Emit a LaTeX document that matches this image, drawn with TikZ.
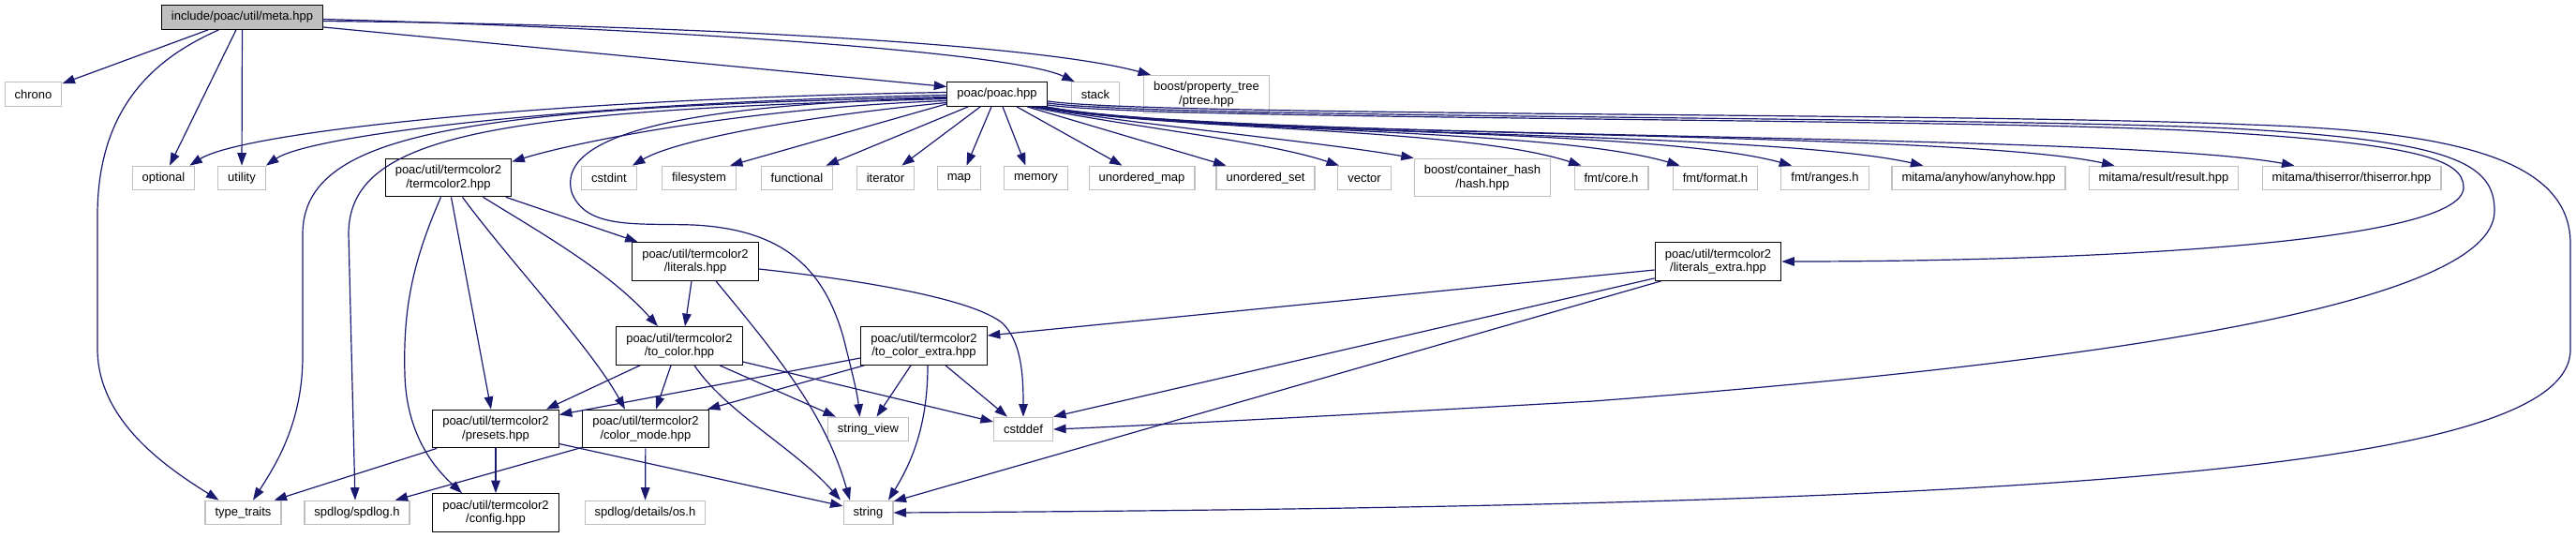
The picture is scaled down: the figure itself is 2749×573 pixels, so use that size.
\documentclass[tikz,border=0pt]{standalone}
\usepackage{fontspec}
\setmainfont{Liberation Sans}
\usetikzlibrary{arrows.meta,calc}
\definecolor{edgeblue}{HTML}{191970}
\definecolor{extgrey}{HTML}{BFBFBF}
\definecolor{rootfill}{HTML}{BFBFBF}
\tikzset{
  nbase/.style={rectangle, inner xsep=10.5pt, inner ysep=6pt, align=center,
    font=\fontsize{13pt}{14.3pt}\selectfont, line width=1.2pt, minimum height=25.5pt},
  ext/.style={nbase, draw=extgrey},
  int/.style={nbase, draw=black, minimum height=40.5pt},
  root/.style={nbase, draw=black, fill=rootfill},
  e/.style={draw=edgeblue, line width=1.2pt, -{Triangle[length=13.5pt,width=9.5pt]}}
}
\begin{document}
\begin{tikzpicture}[x=1pt,y=-1pt]
\useasboundingbox (0,0) rectangle (2749,573);
% nodes
\node[root] (meta) at (258.5,18.5) {include/poac/util/meta.hpp};
\node[ext] (chrono) at (35.5,100.5) {chrono};
\node[int,minimum height=25.5pt] (poac) at (1064,100.5) {poac/poac.hpp};
\node[ext] (stack) at (1169,100.5) {stack};
\node[ext,minimum height=40pt] (ptree) at (1287.5,100.5) {boost/property\_tree\\/ptree.hpp};
\node[ext] (optional) at (174.5,190) {optional};
\node[ext] (utility) at (258,190) {utility};
\node[int] (termcolor2) at (478.5,189.5) {poac/util/termcolor2\\/termcolor2.hpp};
\node[ext] (cstdint) at (650,190) {cstdint};
\node[ext] (filesystem) at (746,190) {filesystem};
\node[ext] (functional) at (850.5,190) {functional};
\node[ext] (iterator) at (945,190) {iterator};
\node[ext] (map) at (1023.5,190) {map};
\node[ext] (memory) at (1105.5,190) {memory};
\node[ext] (umap) at (1218.5,190) {unordered\_map};
\node[ext] (uset) at (1350.5,190) {unordered\_set};
\node[ext] (vector) at (1456,190) {vector};
\node[ext,minimum height=40.5pt] (chash) at (1582,189.5) {boost/container\_hash\\/hash.hpp};
\node[ext] (fmtcore) at (1719.5,190) {fmt/core.h};
\node[ext] (fmtformat) at (1830.5,190) {fmt/format.h};
\node[ext] (fmtranges) at (1947.5,190) {fmt/ranges.h};
\node[ext] (anyhow) at (2111.5,190) {mitama/anyhow/anyhow.hpp};
\node[ext] (result) at (2309,190) {mitama/result/result.hpp};
\node[ext] (thiserror) at (2509.5,190) {mitama/thiserror/thiserror.hpp};
\node[int] (literals) at (742,279) {poac/util/termcolor2\\/literals.hpp};
\node[int] (litextra) at (1833.5,279) {poac/util/termcolor2\\/literals\_extra.hpp};
\node[int] (tocolor) at (725,369) {poac/util/termcolor2\\/to\_color.hpp};
\node[int] (tocolorx) at (986,369) {poac/util/termcolor2\\/to\_color\_extra.hpp};
\node[int] (presets) at (529,457.5) {poac/util/termcolor2\\/presets.hpp};
\node[int] (colormode) at (689,457.5) {poac/util/termcolor2\\/color\_mode.hpp};
\node[ext] (stringview) at (926.5,458) {string\_view};
\node[ext] (cstddef) at (1092,458) {cstddef};
\node[ext] (typetraits) at (259.5,547) {type\_traits};
\node[ext] (spdlog) at (381,547) {spdlog/spdlog.h};
\node[int] (config) at (529,547) {poac/util/termcolor2\\/config.hpp};
\node[ext] (osh) at (688.5,547) {spdlog/details/os.h};
\node[ext] (string) at (926.5,547) {string};
% edges from meta
\draw[e] (meta) -- (chrono);
\draw[e] (meta) -- (optional);
\draw[e] (meta) -- (utility);
\draw[e] ($(meta.south)+(-25,0)$) .. controls (170,60) and (104,110) .. (104,230) -- (104,372) .. controls (104,450) and (180,500) .. ($(typetraits.north)+(-26,0)$);
\draw[e] ($(meta.east)+(0,10.5)$) -- ($(poac.west)+(0,-8)$);
\draw[e] ($(meta.east)+(0,2)$) .. controls (700,30) and (1080,55) .. ($(stack.north west)+(4,0)$);
\draw[e] ($(meta.east)+(0,4)$) .. controls (700,26) and (1100,45) .. ($(ptree.north west)+(8,0)$);
% edges from poac to the left
\draw[e] ($(poac.west)+(0,-2)$) .. controls (600,105) and (260,140) .. ($(optional.north east)+(-6,0)$);
\draw[e] ($(poac.west)+(0,1)$) .. controls (600,110) and (330,145) .. (utility.north east);
\draw[e] ($(poac.west)+(0,3)$) .. controls (500,115) and (323,140) .. (323,250) -- (323,380) .. controls (323,450) and (295,495) .. ($(typetraits.north)+(10.5,0)$);
\draw[e] ($(poac.west)+(0,5)$) .. controls (520,118) and (372,145) .. (372,250) -- ($(spdlog.north)+(-2,0)$);
\draw[e] ($(poac.west)+(0,7)$) .. controls (800,115) and (620,150) .. ($(termcolor2.east)+(0,-17)$);
\draw[e] ($(poac.west)+(0,4)$) .. controls (700,112) and (595,150) .. (610,205) .. controls (625,245) and (680,238) .. (740,240) .. controls (840,245) and (880,290) .. (900,360) .. controls (910,400) and (915,420) .. ($(stringview.north)+(-9,0)$);
\draw[e] ($(poac.west)+(0,9)$) .. controls (850,125) and (720,150) .. ($(cstdint.north east)+(-5,0)$);
\draw[e] ($(poac.south west)+(0,-3)$) -- ($(filesystem.north east)+(-7,0)$);
\draw[e] ($(poac.south west)+(23,0)$) -- ($(functional.north east)+(-8,0)$);
\draw[e] ($(poac.south west)+(36,0)$) -- ($(iterator.north east)+(-14,0)$);
\draw[e] ($(poac.south)+(-6,0)$) -- ($(map.north)+(8,0)$);
\draw[e] ($(poac.south)+(6,0)$) -- ($(memory.north)+(-11,0)$);
\draw[e] ($(poac.south)+(21,0)$) -- ($(umap.north)+(-21,0)$);
\draw[e] ($(poac.south)+(32,0)$) -- ($(uset.north)+(-42,0)$);
% edges from poac to the right
\draw[e] ($(poac.south east)+(-18,0)$) .. controls (1200,135) and (1350,150) .. ($(vector.north)+(-27,0)$);
\draw[e] ($(poac.south east)+(-14,0)$) .. controls (1200,132) and (1400,150) .. (chash.north west);
\draw[e] ($(poac.south east)+(-11,0)$) .. controls (1250,140) and (1560,135) .. ($(fmtcore.north west)+(8,0)$);
\draw[e] ($(poac.south east)+(-9,0)$) .. controls (1260,142) and (1650,135) .. ($(fmtformat.north west)+(8,0)$);
\draw[e] ($(poac.south east)+(-7,0)$) .. controls (1270,144) and (1760,135) .. ($(fmtranges.north west)+(12,0)$);
\draw[e] ($(poac.south east)+(-5,0)$) .. controls (1280,146) and (1880,138) .. ($(anyhow.north west)+(34,0)$);
\draw[e] ($(poac.south east)+(-3,0)$) .. controls (1290,148) and (2080,138) .. ($(result.north west)+(28,0)$);
\draw[e] ($(poac.south east)+(-1,0)$) .. controls (1300,150) and (2250,140) .. ($(thiserror.north west)+(35,0)$);
\draw[e] ($(poac.south east)+(0,-2)$) .. controls (1220,128) and (2100,126) .. (2350,140) .. controls (2580,153) and (2629,170) .. (2629,200) .. controls (2629,262) and (2200,279) .. (litextra.east);
\draw[e] ($(poac.south east)+(0,-4)$) .. controls (1220,126) and (2100,124) .. (2380,137) .. controls (2620,150) and (2662,175) .. (2662,225) .. controls (2662,330) and (2200,390) .. (1700,428) .. controls (1400,445) and (1200,455) .. (cstddef.east);
\draw[e] ($(poac.south east)+(0,-6)$) .. controls (1220,124) and (2100,120) .. (2400,133) .. controls (2620,140) and (2743,170) .. (2743,260) -- (2743,373) .. controls (2743,500) and (2200,540) .. (string.east);
% termcolor2
\draw[e] (termcolor2) -- (literals);
\draw[e] ($(termcolor2.south)+(37,0)$) .. controls (580,250) and (650,290) .. ($(tocolor.north)+(-23,0)$);
\draw[e] ($(termcolor2.south)+(3,0)$) -- ($(presets.north)+(-5,0)$);
\draw[e] ($(termcolor2.south)+(15,0)$) .. controls (545,280) and (630,370) .. ($(colormode.north)+(-22,0)$);
\draw[e] ($(termcolor2.south)+(-8,0)$) .. controls (440,280) and (430,330) .. (432,400) .. controls (434,470) and (470,505) .. ($(config.north)+(-36,0)$);
% literals
\draw[e] ($(literals.south)+(-4,0)$) -- ($(tocolor.north)+(6,0)$);
\draw[e] ($(literals.south)+(22,0)$) .. controls (830,380) and (880,440) .. ($(string.north)+(-19.5,0)$);
\draw[e] ($(literals.east)+(0,8)$) .. controls (930,300) and (1040,320) .. (1070,345) .. controls (1090,365) and (1092,400) .. (cstddef.north);
% to_color
\draw[e] ($(tocolor.south)+(-42,0)$) -- ($(presets.north east)+(-14,0)$);
\draw[e] ($(tocolor.south)+(-9,0)$) -- ($(colormode.north)+(11,0)$);
\draw[e] ($(tocolor.south)+(16,0)$) .. controls (775,440) and (850,480) .. ($(string.north)+(-29.5,0)$);
\draw[e] ($(tocolor.south)+(43,0)$) -- ($(stringview.north west)+(9,0)$);
\draw[e] ($(tocolor.east)+(0,17)$) -- ($(cstddef.west)+(0,-8)$);
% to_color_extra
\draw[e] ($(tocolorx.west)+(0,13)$) -- ($(presets.east)+(0,-15)$);
\draw[e] ($(tocolorx.south west)+(4,0)$) -- ($(colormode.north east)+(-2,0)$);
\draw[e] ($(tocolorx.south)+(-14,0)$) -- ($(stringview.north)+(9,0)$);
\draw[e] ($(tocolorx.south)+(4,0)$) .. controls (990,450) and (975,490) .. ($(string.north)+(21.5,0)$);
\draw[e] ($(tocolorx.south)+(23,0)$) -- ($(cstddef.north west)+(15,0)$);
% literals_extra
\draw[e] ($(litextra.west)+(0,9)$) -- ($(tocolorx.east)+(0,-11)$);
\draw[e] ($(litextra.south west)+(0,-3)$) -- (cstddef.north east);
\draw[e] ($(litextra.south west)+(7,0)$) -- ($(string.east)+(0,-12)$);
% presets
\draw[e] ($(presets.south west)+(5,0)$) -- ($(typetraits.north east)+(-8,0)$);
\draw[e] (presets) -- (config);
\draw[e] ($(presets.east)+(0,16)$) -- ($(string.west)+(0,-7)$);
% color_mode
\draw[e] ($(colormode.south west)+(0,-1)$) -- ($(spdlog.north east)+(-16,0)$);
\draw[e] (colormode) -- (osh);
\end{tikzpicture}
\end{document}
